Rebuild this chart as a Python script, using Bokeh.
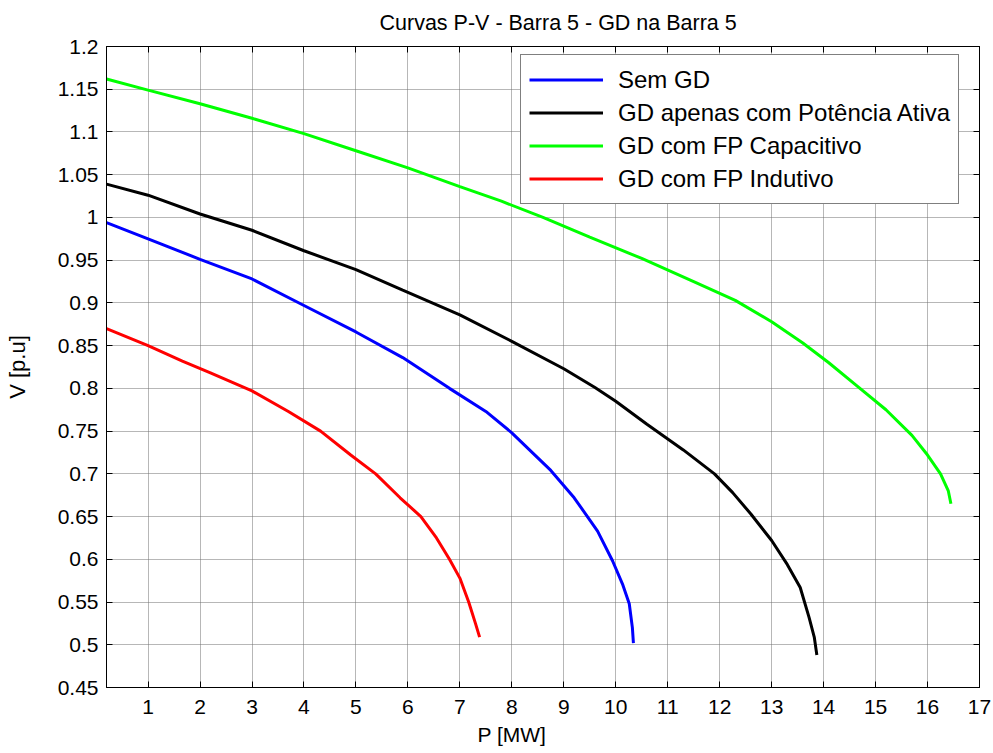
from bokeh.plotting import figure
from bokeh.models import LinearAxis, FixedTicker, Legend, LegendItem, Range1d, Title
from bokeh.embed import file_html
from bokeh.resources import INLINE

# P-V curves at bus 5 (P in MW, V in p.u.)
p_sem_gd = [0.2, 1.0, 2.0, 3.0, 4.0, 5.0, 5.9, 6.8, 7.5, 8.0, 8.75, 9.2, 9.65, 9.94, 10.13, 10.26, 10.32, 10.34]
v_sem_gd = [0.994, 0.975, 0.951, 0.928, 0.897, 0.866, 0.836, 0.800, 0.773, 0.748, 0.704, 0.672, 0.633, 0.598, 0.571, 0.548, 0.520, 0.502]

p_ativa = [0.2, 1.0, 2.0, 3.0, 4.0, 5.0, 5.9, 7.0, 8.0, 9.0, 9.6, 10.0, 10.6, 11.3, 11.9, 12.25, 12.6, 13.0, 13.3, 13.55, 13.72, 13.82, 13.87]
v_ativa = [1.039, 1.026, 1.004, 0.985, 0.961, 0.939, 0.915, 0.886, 0.855, 0.823, 0.801, 0.785, 0.758, 0.728, 0.700, 0.678, 0.653, 0.622, 0.594, 0.567, 0.532, 0.509, 0.488]

p_capacitivo = [0.2, 1.0, 2.0, 3.0, 4.0, 5.0, 6.0, 7.0, 7.8, 8.6, 9.5, 10.5, 11.5, 12.3, 13.0, 13.6, 14.1, 14.6, 15.2, 15.7, 16.0, 16.25, 16.4, 16.45]
v_capacitivo = [1.162, 1.149, 1.133, 1.116, 1.098, 1.078, 1.058, 1.036, 1.019, 1.000, 0.977, 0.952, 0.925, 0.903, 0.878, 0.853, 0.830, 0.805, 0.775, 0.745, 0.722, 0.700, 0.680, 0.665]

p_indutivo = [0.2, 1.0, 1.66, 2.2, 3.0, 3.7, 4.32, 4.9, 5.38, 5.85, 6.25, 6.55, 6.8, 7.0, 7.17, 7.3, 7.38]
v_indutivo = [0.870, 0.850, 0.832, 0.818, 0.797, 0.773, 0.750, 0.722, 0.700, 0.672, 0.650, 0.625, 0.600, 0.578, 0.550, 0.525, 0.509]

series_names = ["Sem GD", "GD apenas com Potência Ativa", "GD com FP Capacitivo", "GD com FP Indutivo"]
series_colors = ["#0000ff", "#000000", "#00ff00", "#ff0000"]

x_ticks = list(range(1, 18))
y_ticks = [0.45, 0.5, 0.55, 0.6, 0.65, 0.7, 0.75, 0.8, 0.85, 0.9, 0.95, 1.0, 1.05, 1.1, 1.15, 1.2]
y_tick_labels = ["0.45", "0.5", "0.55", "0.6", "0.65", "0.7", "0.75", "0.8", "0.85", "0.9",
                 "0.95", "1", "1.05", "1.1", "1.15", "1.2"]

title_text = "Curvas P-V - Barra 5 - GD na Barra 5"
x_label_text = "P [MW]"
y_label_text = "V [p.u]"

FONT = "Liberation Sans"
TICK_SIZE = "21px"

p = figure(width=993, height=753, output_backend="svg", toolbar_location=None,
           x_range=Range1d(0.2, 17), y_range=Range1d(0.45, 1.2),
           min_border_left=106, min_border_right=14, min_border_top=46, min_border_bottom=66)

p.outline_line_color = "black"
p.outline_line_width = 1
p.background_fill_color = "white"
p.border_fill_color = "white"

# main axes
p.xaxis.ticker = FixedTicker(ticks=x_ticks)
p.yaxis.ticker = FixedTicker(ticks=y_ticks)
p.yaxis.major_label_overrides = {t: s for t, s in zip(y_ticks, y_tick_labels)}
p.yaxis.axis_label = y_label_text
for ax in (p.xaxis[0], p.yaxis[0]):
    ax.major_label_text_font = FONT
    ax.major_label_text_font_size = TICK_SIZE
    ax.major_label_text_color = "black"
    ax.axis_label_text_font = FONT
    ax.axis_label_text_font_size = "22px"
    ax.axis_label_text_font_style = "normal"
    ax.axis_label_text_color = "black"
    ax.major_tick_in = 6
    ax.major_tick_out = 0
    ax.minor_tick_line_color = None
    ax.axis_line_color = "black"
    ax.major_tick_line_color = "black"
p.xaxis.major_label_standoff = 12
p.yaxis.major_label_standoff = 8
p.yaxis.axis_label_standoff = 25

# mirrored tick marks on top and right (no labels)
top_axis = LinearAxis(ticker=FixedTicker(ticks=x_ticks))
right_axis = LinearAxis(ticker=FixedTicker(ticks=y_ticks))
for ax in (top_axis, right_axis):
    ax.major_label_text_color = None
    ax.major_label_text_font_size = "1px"
    ax.major_label_standoff = 0
    ax.major_tick_in = 6
    ax.major_tick_out = 0
    ax.minor_tick_line_color = None
    ax.axis_line_color = "black"
    ax.major_tick_line_color = "black"
p.add_layout(top_axis, "above")
p.add_layout(right_axis, "right")

# chart title (above) and x-axis caption (below), left-aligned with an offset
p.add_layout(Title(text=title_text, align="left", offset=273, standoff=20,
                   vertical_align="top",
                   text_font=FONT, text_font_size="21.5px", text_font_style="normal",
                   text_color="black"), "above")
p.add_layout(Title(text=x_label_text, align="left", offset=371, standoff=8,
                   text_font=FONT, text_font_size="21px", text_font_style="normal",
                   text_color="black"), "below")

# dotted grid
for g in (p.xgrid[0], p.ygrid[0]):
    g.grid_line_color = "#6f6f6f"
    g.grid_line_dash = "1 1"
    g.grid_line_width = 1
    g.grid_line_alpha = 1.0

xs = [p_sem_gd, p_ativa, p_capacitivo, p_indutivo]
ys = [v_sem_gd, v_ativa, v_capacitivo, v_indutivo]
items = []
for x, y, name, color in zip(xs, ys, series_names, series_colors):
    r = p.line(x, y, line_color=color, line_width=3)
    items.append(LegendItem(label=name, renderers=[r]))

legend = Legend(items=items, location=(414, 483))
legend.label_text_font = FONT
legend.label_text_font_size = "24px"
legend.label_text_color = "black"
legend.glyph_width = 74
legend.glyph_height = 33
legend.label_height = 33
legend.label_standoff = 15
legend.spacing = 0
legend.padding = 8
legend.margin = 0
legend.border_line_color = "black"
legend.border_line_width = 1
legend.background_fill_color = "white"
legend.background_fill_alpha = 1.0
p.add_layout(legend, "center")

open("out.html", "w").write(file_html(p, INLINE))
